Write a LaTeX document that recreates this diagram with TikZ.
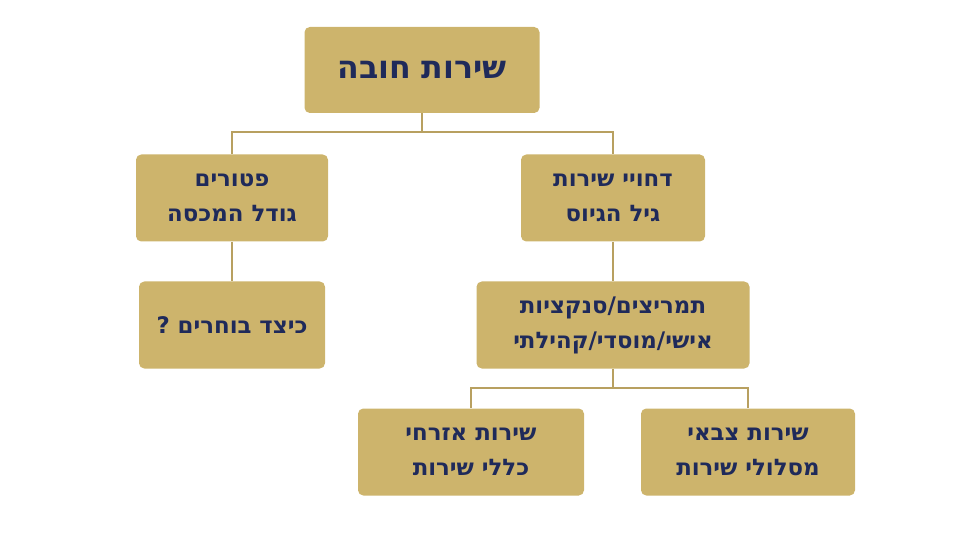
\documentclass[tikz,border=0pt]{standalone}
\usepackage{fontspec}
\setmainfont{DejaVu Sans}[BoldFont={DejaVu Sans Bold}]
\TeXXeTstate=1
\newcommand{\heb}[1]{\beginR #1\endR}
\definecolor{boxgold}{HTML}{CDB46C}
\definecolor{linegold}{HTML}{B8A060}
\definecolor{navy}{HTML}{1F2A5A}
\tikzset{
  box/.style={fill=boxgold, rounded corners=3pt, text=navy, font=\bfseries\fontsize{13}{20}\selectfont, align=center, inner sep=0pt},
  link/.style={linegold, line width=1.1pt}
}
\begin{document}
\begin{tikzpicture}[x=0.02cm, y=-0.02cm]
\useasboundingbox (0,0) rectangle (955,536);

\node[box, minimum width=235*0.02cm, minimum height=86*0.02cm, font=\bfseries\fontsize{18}{20}\selectfont] (top) at (422,70) {\heb{שירות חובה}};

\node[box, minimum width=192*0.02cm, minimum height=87*0.02cm] (exempt) at (232,198) {\heb{פטורים}\\\heb{גודל המכסה}};
\node[box, minimum width=184*0.02cm, minimum height=87*0.02cm] (defer) at (613,198) {\heb{דחויי שירות}\\\heb{גיל הגיוס}};

\node[box, minimum width=186*0.02cm, minimum height=87*0.02cm] (choose) at (232,325) {\heb{כיצד בוחרים ?}};
\node[box, minimum width=273*0.02cm, minimum height=87*0.02cm] (incent) at (613,325) {\heb{תמריצים/סנקציות}\\\heb{אישי/מוסדי/קהילתי}};

\node[box, minimum width=226*0.02cm, minimum height=87*0.02cm] (civil) at (471,452) {\heb{שירות אזרחי}\\\heb{כללי שירות}};
\node[box, minimum width=214*0.02cm, minimum height=87*0.02cm] (army) at (748,452) {\heb{שירות צבאי}\\\heb{מסלולי שירות}};

% connectors
\coordinate (bus1) at (422,132);
\coordinate (bus2) at (613,388);
\draw[link] (top.south) -- (bus1) -| (exempt.north);
\draw[link] (bus1) -| (defer.north);
\draw[link] (exempt.south) -- (choose.north);
\draw[link] (defer.south) -- (incent.north);
\draw[link] (incent.south) -- (bus2) -| (civil.north);
\draw[link] (bus2) -| (army.north);
\end{tikzpicture}
\end{document}
